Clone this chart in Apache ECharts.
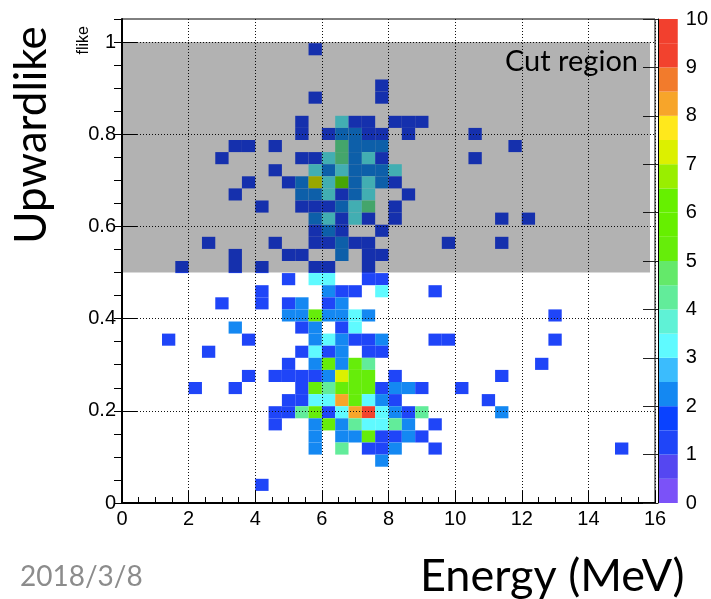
<!DOCTYPE html>
<html>
<head>
<meta charset="utf-8">
<script src="https://cdn.jsdelivr.net/npm/echarts@6/dist/echarts.min.js"></script>
<style>
  html, body { margin: 0; padding: 0; background: #fff; }
  #chart { width: 711px; height: 599px; }
</style>
</head>
<body>
<div id="chart"></div>
<script>
// Histogram binning: 40 energy bins over 0-16 MeV, 40 flike bins over 0-1.05
const ENERGY_BIN = 0.4;
const FLIKE_BIN = 0.02625;

const energyTicks = [0, 2, 4, 6, 8, 10, 12, 14, 16];
const flikeTicks = [0, 0.2, 0.4, 0.6, 0.8, 1];
const countTicks = [0, 1, 2, 3, 4, 5, 6, 7, 8, 9, 10];

// Cut region box: [energy low, flike low, energy high, flike high]
const cutRegion = [0, 0.5, 15.85, 1.0];

// Filled bins as [energy bin, flike bin, entries], flike >= 0.5
const cellsUpward = [
  [14, 37, 1],
  [19, 34, 1],
  [14, 33, 1], [19, 33, 1],
  [13, 31, 1], [16, 31, 3], [17, 31, 1], [18, 31, 1], [20, 31, 1], [21, 31, 1], [22, 31, 1],
  [13, 30, 1], [15, 30, 1], [16, 30, 2], [17, 30, 2], [18, 30, 1], [19, 30, 1], [21, 30, 1], [26, 30, 1],
  [8, 29, 1], [9, 29, 1], [11, 29, 1], [16, 29, 4], [17, 29, 2], [18, 29, 2], [19, 29, 2], [29, 29, 1],
  [7, 28, 1], [13, 28, 1], [14, 28, 1], [15, 28, 3], [16, 28, 4], [17, 28, 2], [18, 28, 3], [19, 28, 1], [26, 28, 1],
  [11, 27, 1], [14, 27, 3], [15, 27, 2], [16, 27, 3], [17, 27, 2], [18, 27, 2], [19, 27, 2], [20, 27, 3],
  [9, 26, 1], [12, 26, 1], [13, 26, 2], [14, 26, 7], [15, 26, 3], [16, 26, 5], [17, 26, 2], [18, 26, 3], [19, 26, 2], [20, 26, 1],
  [8, 25, 1], [13, 25, 2], [14, 25, 2], [15, 25, 3], [16, 25, 1], [17, 25, 2], [18, 25, 3], [21, 25, 1],
  [10, 24, 1], [13, 24, 1], [14, 24, 1], [15, 24, 1], [16, 24, 2], [17, 24, 3], [18, 24, 4], [20, 24, 1],
  [14, 23, 2], [15, 23, 3], [16, 23, 1], [17, 23, 3], [18, 23, 1], [20, 23, 1], [28, 23, 1], [30, 23, 1],
  [14, 22, 1], [15, 22, 2], [16, 22, 1], [19, 22, 1],
  [6, 21, 1], [11, 21, 1], [14, 21, 1], [15, 21, 1], [16, 21, 2], [17, 21, 1], [18, 21, 1], [24, 21, 1], [28, 21, 1],
  [8, 20, 1], [12, 20, 1], [13, 20, 1], [16, 20, 2], [18, 20, 1], [19, 20, 1],
  [4, 19, 1], [8, 19, 1], [10, 19, 1], [14, 19, 1], [15, 19, 1], [18, 19, 1]
];

// Filled bins below the cut, flike < 0.5
const cellsDownward = [
  [12, 18, 1], [14, 18, 3], [15, 18, 3], [18, 18, 1], [19, 18, 1],
  [10, 17, 1], [15, 17, 2], [16, 17, 1], [17, 17, 1], [19, 17, 3], [23, 17, 1],
  [7, 16, 1], [10, 16, 1], [12, 16, 1], [13, 16, 2], [15, 16, 1], [16, 16, 2],
  [12, 15, 2], [13, 15, 2], [14, 15, 5], [15, 15, 2], [16, 15, 2], [17, 15, 3], [18, 15, 2], [32, 15, 1],
  [8, 14, 2], [13, 14, 1], [14, 14, 2], [16, 14, 1], [17, 14, 3],
  [3, 13, 1], [9, 13, 1], [14, 13, 2], [15, 13, 3], [16, 13, 2], [17, 13, 1], [18, 13, 1], [19, 13, 2], [23, 13, 1], [24, 13, 1], [32, 13, 1],
  [6, 12, 1], [13, 12, 1], [14, 12, 3], [15, 12, 1], [16, 12, 2], [18, 12, 1], [19, 12, 1],
  [12, 11, 1], [14, 11, 2], [15, 11, 5], [16, 11, 2], [17, 11, 5], [18, 11, 4], [31, 11, 1],
  [9, 10, 1], [11, 10, 1], [12, 10, 1], [13, 10, 1], [14, 10, 1], [15, 10, 2], [16, 10, 7], [17, 10, 5], [18, 10, 5], [20, 10, 1], [28, 10, 1],
  [5, 9, 1], [8, 9, 1], [13, 9, 1], [14, 9, 5], [15, 9, 4], [16, 9, 5], [17, 9, 5], [18, 9, 5], [19, 9, 1], [20, 9, 2], [21, 9, 2], [22, 9, 1], [25, 9, 1],
  [12, 8, 1], [13, 8, 1], [14, 8, 3], [15, 8, 3], [16, 8, 8], [17, 8, 5], [18, 8, 3], [19, 8, 2], [20, 8, 1], [27, 8, 1],
  [11, 7, 1], [12, 7, 1], [13, 7, 4], [14, 7, 5], [15, 7, 1], [16, 7, 3], [17, 7, 8], [18, 7, 9], [19, 7, 3], [20, 7, 2], [21, 7, 1], [22, 7, 4], [28, 7, 2],
  [11, 6, 1], [14, 6, 2], [15, 6, 5], [16, 6, 2], [17, 6, 4], [18, 6, 3], [19, 6, 3], [20, 6, 4], [21, 6, 2], [23, 6, 1],
  [14, 5, 2], [16, 5, 2], [17, 5, 2], [18, 5, 5], [19, 5, 1], [20, 5, 1], [21, 5, 2], [22, 5, 1],
  [14, 4, 2], [16, 4, 4], [18, 4, 1], [19, 4, 1], [20, 4, 2], [23, 4, 1], [37, 4, 1],
  [19, 3, 2],
  [10, 1, 1]
];

// 20 colour contours spanning the z range 0-10
const paletteBands = [
  '#7b52f8', '#5547f1', '#1f45f8', '#0a42ff', '#1488f2',
  '#3bbcfd', '#5ffaff', '#5ff2d6', '#62ec9a', '#64e96a',
  '#66ed0a', '#66ef00', '#66f000', '#99ee00', '#dcf000',
  '#ffe81c', '#f7a52a', '#f27b2c', '#f2422e', '#f2402e'
];
const Z_MAX = 10;

function bandColor(n) {
  const k = Math.floor(n / Z_MAX * paletteBands.length);
  return paletteBands[Math.max(0, Math.min(paletteBands.length - 1, k))];
}

function renderCell(params, api) {
  const ix = api.value(0), iy = api.value(1), n = api.value(2);
  const p0 = api.coord([ix * ENERGY_BIN, (iy + 1) * FLIKE_BIN]);
  const p1 = api.coord([(ix + 1) * ENERGY_BIN, iy * FLIKE_BIN]);
  return {
    type: 'rect',
    shape: { x: p0[0], y: p0[1], width: p1[0] - p0[0], height: p1[1] - p0[1] },
    style: { fill: bandColor(n) }
  };
}

function renderBand(params, api) {
  const i = api.value(0);
  const step = Z_MAX / paletteBands.length;
  const p0 = api.coord([0, (i + 1) * step]);
  const p1 = api.coord([1, i * step]);
  return {
    type: 'rect',
    shape: { x: p0[0], y: p0[1], width: p1[0] - p0[0], height: p1[1] - p0[1] },
    style: { fill: paletteBands[i] }
  };
}

function renderBox(params, api) {
  const p0 = api.coord([api.value(0), api.value(3)]);
  const p1 = api.coord([api.value(2), api.value(1)]);
  return {
    type: 'rect',
    shape: { x: p0[0], y: p0[1], width: p1[0] - p0[0], height: p1[1] - p0[1] },
    style: { fill: 'rgba(0,0,0,0.3)' }
  };
}

const labelFont = { color: '#000', fontFamily: 'Liberation Sans', fontSize: 20 };
const gridLine = { show: true, lineStyle: { color: '#111', width: 1, type: [1, 2] } };

const chart = echarts.init(document.getElementById('chart'), null, { renderer: 'canvas' });

chart.setOption({
  animation: false,
  backgroundColor: '#fff',
  grid: [
    { left: 122, top: 19, width: 533, height: 484, show: true, borderColor: '#000', borderWidth: 1, backgroundColor: 'transparent' },
    { left: 658, top: 19, width: 29, height: 484 }
  ],
  xAxis: [
    {
      gridIndex: 0, type: 'value', min: 0, max: 16, interval: 2, z: 2,
      axisLine: { show: true, onZero: false, lineStyle: { color: '#000', width: 2 } },
      axisTick: { show: true, inside: true, length: 12, lineStyle: { color: '#000', width: 1 } },
      minorTick: { show: true, splitNumber: 4, length: 6, lineStyle: { color: '#000', width: 1 } },
      splitLine: gridLine,
      axisLabel: Object.assign({ margin: 6, customValues: energyTicks }, labelFont)
    },
    { gridIndex: 1, type: 'value', min: 0, max: 1, show: false }
  ],
  yAxis: [
    {
      gridIndex: 0, type: 'value', min: 0, max: 1.05, interval: 0.2, z: 2,
      axisLine: { show: true, onZero: false, lineStyle: { color: '#000', width: 2 } },
      axisTick: { show: true, inside: true, length: 15, customValues: flikeTicks, lineStyle: { color: '#000', width: 1 } },
      splitLine: gridLine,
      axisLabel: Object.assign({ margin: 6, customValues: flikeTicks }, labelFont)
    },
    {
      gridIndex: 0, type: 'value', min: 0, max: 1.05, interval: 0.05, z: 2,
      axisLine: { show: false },
      axisTick: { show: true, inside: true, length: 8, lineStyle: { color: '#000', width: 1 } },
      axisLabel: { show: false },
      splitLine: { show: false }
    },
    {
      gridIndex: 1, type: 'value', position: 'right', min: 0, max: 10, interval: 1, z: 2,
      axisLine: { show: true, lineStyle: { color: '#000', width: 1 } },
      axisTick: { show: true, inside: true, length: 15, customValues: countTicks, lineStyle: { color: '#222', width: 1 } },
      splitLine: { show: false },
      axisLabel: Object.assign({ margin: 8, customValues: countTicks }, labelFont)
    }
  ],
  series: [
    { type: 'custom', name: 'upward', xAxisIndex: 0, yAxisIndex: 0, z: 1, renderItem: renderCell, data: cellsUpward },
    { type: 'custom', name: 'downward', xAxisIndex: 0, yAxisIndex: 0, z: 1, renderItem: renderCell, data: cellsDownward },
    { type: 'custom', name: 'cut', xAxisIndex: 0, yAxisIndex: 0, z: 3, renderItem: renderBox, data: [cutRegion] },
    { type: 'custom', name: 'palette', xAxisIndex: 1, yAxisIndex: 2, z: 1, renderItem: renderBand,
      data: paletteBands.map((c, i) => [i]) }
  ],
  graphic: [
    { type: 'text', x: 32, y: 135, rotation: Math.PI / 2,
      style: { text: 'Upwardlike', fontSize: 44, fontFamily: 'Lato', fill: '#000', align: 'center', verticalAlign: 'middle' } },
    { type: 'text', x: 84, y: 26, rotation: Math.PI / 2,
      style: { text: 'flike', fontSize: 16, fontFamily: 'Liberation Sans', fill: '#000', align: 'right', verticalAlign: 'middle' } },
    { type: 'text', x: 638, y: 62,
      style: { text: 'Cut region', fontSize: 29, fontFamily: 'Lato', fill: '#000', align: 'right', verticalAlign: 'middle' } },
    { type: 'text', x: 420, y: 576,
      style: { text: 'Energy (MeV)', fontSize: 45, fontFamily: 'Lato', fill: '#000', align: 'left', verticalAlign: 'middle' } },
    { type: 'text', x: 20, y: 577,
      style: { text: '2018/3/8', fontSize: 28, fontFamily: 'Lato', fill: '#8c8c8c', align: 'left', verticalAlign: 'middle' } }
  ]
});
</script>
</body>
</html>
